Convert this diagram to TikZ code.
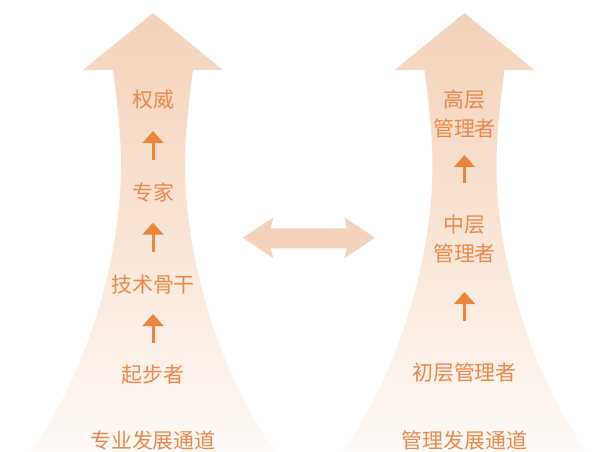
\documentclass[tikz,border=0pt]{standalone}
\usepackage{fontspec}
\newfontfamily\cjk{Noto Sans CJK SC}
\usetikzlibrary{arrows.meta}
\definecolor{taozi}{HTML}{F4D2B9}
\definecolor{kiiro}{HTML}{FEFAF7}
\definecolor{mikan}{HTML}{E98A4B}
\definecolor{daidai}{HTML}{E8863E}

\tikzset{
    level/.style={text=mikan, font=\cjk\fontsize{15.7}{21.75}\selectfont, align=center, inner sep=0pt},
    upstep/.style={draw=daidai, line width=2.25pt, -{Triangle[width=15.5pt, length=9pt]}}
}

\begin{document}
\begin{tikzpicture}[x=0.75pt, y=-0.75pt]
    \useasboundingbox (0, 0) rectangle (604, 451);

    % the two big arrows
    \foreach \c in {153, 464.5}
        \shade[top color=taozi, bottom color=kiiro, middle color=taozi!55!kiiro]
            (\c, 13) -- (\c+70, 70) -- (\c+40, 70)
            .. controls (\c+36, 100) and (\c+32, 135) .. (\c+32, 165)
            .. controls (\c+32, 260) and (\c+67, 375) .. (\c+122, 451)
            -- (\c-122, 451)
            .. controls (\c-67, 375) and (\c-32, 260) .. (\c-32, 165)
            .. controls (\c-32, 135) and (\c-36, 100) .. (\c-40, 70)
            -- (\c-70, 70) -- cycle;

    % the arrow between them
    \fill[taozi] (242.7, 237.7) -- (273.3, 217.3) -- (270.7, 228.3) -- (346.9, 228.3)
        -- (344.3, 217.3) -- (375, 237.7) -- (344.3, 258.3) -- (346.9, 248.3)
        -- (270.7, 248.3) -- (273.3, 258.3) -- cycle;

    % left path
    \node[level] (quanwei) at (153, 100) {权威};
    \node[level] (zhuanjia) at (153, 192.7) {专家};
    \node[level] (gugan) at (153, 285) {技术骨干};
    \node[level] (qibu) at (153, 375) {起步者};
    \node[level] (zhuanye) at (153, 441) {专业发展通道};

    % right path
    \node[level] (gaoceng) at (464.5, 114.5) {高层\\管理者};
    \node[level] (zhongceng) at (464.5, 239) {中层\\管理者};
    \node[level] (chuceng) at (464.5, 373) {初层管理者};
    \node[level] (guanli) at (464.5, 441) {管理发展通道};

    \foreach \a / \b / \s / \e in {qibu/gugan/24/21.75, gugan/zhuanjia/25/22.5,
        zhuanjia/quanwei/24.5/23.25, chuceng/zhongceng/39/39.75, zhongceng/gaoceng/42/30.4}
        \draw[upstep, shorten <=\s pt, shorten >=\e pt] (\a.center) -- (\b.center);
\end{tikzpicture}
\end{document}
